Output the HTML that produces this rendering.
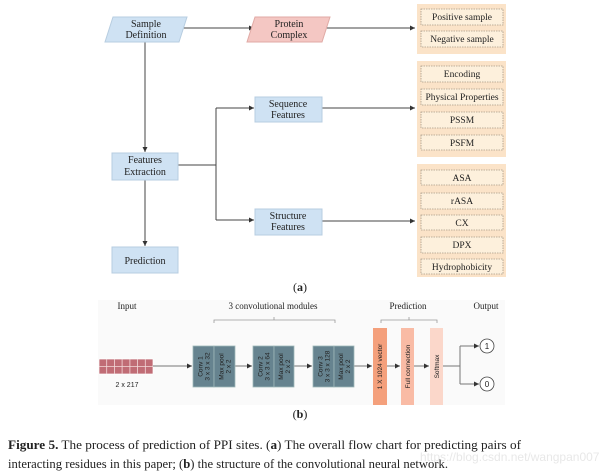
<!DOCTYPE html>
<html><head><meta charset="utf-8"><style>
html,body{margin:0;padding:0;background:#fff;}
svg{display:block;}
text{font-family:"Liberation Serif",serif;fill:#222;}
.s,.s text{font-family:"Liberation Sans",sans-serif;}
</style></head><body>
<svg width="602" height="472" viewBox="0 0 602 472" xmlns="http://www.w3.org/2000/svg">
<defs>
<marker id="a" markerWidth="6" markerHeight="6" refX="5" refY="3" orient="auto" markerUnits="userSpaceOnUse"><path d="M0,0.5 L5,3 L0,5.5z" fill="#333"/></marker>
</defs>
<g stroke="#444" stroke-width="1" fill="none">
<line x1="183" y1="28" x2="254" y2="28" marker-end="url(#a)"/>
<line x1="326" y1="28" x2="415" y2="28" marker-end="url(#a)"/>
<line x1="145" y1="42" x2="145" y2="152" marker-end="url(#a)"/>
<line x1="145" y1="180" x2="145" y2="246" marker-end="url(#a)"/>
<polyline points="178,165 216,165"/>
<polyline points="216,108 216,220"/>
<line x1="216" y1="108" x2="254" y2="108" marker-end="url(#a)"/>
<line x1="216" y1="220" x2="254" y2="220" marker-end="url(#a)"/>
<line x1="322" y1="108" x2="415" y2="108" marker-end="url(#a)"/>
<line x1="322" y1="221" x2="415" y2="221" marker-end="url(#a)"/>
</g>
<polygon points="113,17 187,17 179,42 105,42" fill="#cfe2f3" stroke="#b7cde0"/>
<text x="146" y="27" font-size="10" text-anchor="middle">Sample</text>
<text x="146" y="38" font-size="10" text-anchor="middle">Definition</text>
<polygon points="255,17 330,17 322,42 247,42" fill="#f4c7c3" stroke="#e0aaa5"/>
<text x="289" y="27" font-size="10" text-anchor="middle">Protein</text>
<text x="289" y="38" font-size="10" text-anchor="middle">Complex</text>
<rect x="112" y="153" width="66" height="27" fill="#cfe2f3" stroke="#b7cde0"/>
<text x="145" y="163" font-size="10" text-anchor="middle">Features</text>
<text x="145" y="175" font-size="10" text-anchor="middle">Extraction</text>
<rect x="112" y="247" width="66" height="26" fill="#cfe2f3" stroke="#b7cde0"/>
<text x="145" y="264" font-size="10" text-anchor="middle">Prediction</text>
<rect x="255" y="97" width="67" height="25" fill="#cfe2f3" stroke="#b7cde0"/>
<text x="288" y="107" font-size="10" text-anchor="middle">Sequence</text>
<text x="288" y="118" font-size="10" text-anchor="middle">Features</text>
<rect x="255" y="209" width="67" height="26" fill="#cfe2f3" stroke="#b7cde0"/>
<text x="288" y="219" font-size="10" text-anchor="middle">Structure</text>
<text x="288" y="230" font-size="10" text-anchor="middle">Features</text>
<g fill="#fbe3c8">
<rect x="417" y="4" width="89" height="50"/>
<rect x="417" y="61" width="89" height="96"/>
<rect x="417" y="164" width="89" height="113"/>
</g>
<g fill="#fdf0dc" stroke="#a89a88" stroke-width="0.8" stroke-dasharray="1.5,1">
<rect x="421" y="9" width="82" height="16"/><rect x="421" y="31" width="82" height="16"/>
<rect x="421" y="66" width="82" height="16"/><rect x="421" y="89" width="82" height="16"/>
<rect x="421" y="112" width="82" height="16"/><rect x="421" y="135" width="82" height="15"/>
<rect x="421" y="170" width="82" height="15"/><rect x="421" y="193" width="82" height="16"/>
<rect x="421" y="215" width="82" height="15"/><rect x="421" y="237" width="82" height="16"/>
<rect x="421" y="259" width="82" height="15"/>
</g>
<g font-size="9.5" text-anchor="middle">
<text x="462" y="20">Positive sample</text><text x="462" y="42">Negative sample</text>
<text x="462" y="77">Encoding</text><text x="462" y="100">Physical Properties</text>
<text x="462" y="123">PSSM</text><text x="462" y="146">PSFM</text>
<text x="462" y="181">ASA</text><text x="462" y="204">rASA</text>
<text x="462" y="226">CX</text><text x="462" y="248">DPX</text>
<text x="462" y="270">Hydrophobicity</text>
</g>
<text x="300" y="291" font-size="12" text-anchor="middle">(<tspan font-weight="bold">a</tspan>)</text>
<rect x="98" y="300" width="407" height="105" fill="#fafafa"/>
<g font-size="9" text-anchor="middle">
<text x="127" y="309">Input</text>
<text x="273" y="309">3 convolutional modules</text>
<text x="408" y="309">Prediction</text>
<text x="486" y="309">Output</text>
</g>
<g stroke="#999" fill="none" stroke-width="0.8">
<path d="M214,323 V320 H335 V323 M274,320 V317"/>
<path d="M381,323 V320 H437 V323 M409,320 V317"/>
</g>
<g fill="#c06c75" stroke="#fff" stroke-width="0.7">
<rect x="99" y="359" width="54" height="15"/>
</g>
<g stroke="#f3dada" stroke-width="0.8">
<line x1="99" y1="366.5" x2="153" y2="366.5"/>
<line x1="106.7" y1="359" x2="106.7" y2="374"/><line x1="114.4" y1="359" x2="114.4" y2="374"/>
<line x1="122.1" y1="359" x2="122.1" y2="374"/><line x1="129.9" y1="359" x2="129.9" y2="374"/>
<line x1="137.6" y1="359" x2="137.6" y2="374"/><line x1="145.3" y1="359" x2="145.3" y2="374"/>
</g>
<text x="127" y="387" font-size="7" class="s" text-anchor="middle">2 x 217</text>
<g stroke="#777" fill="none">
<line x1="153" y1="366" x2="192" y2="366" marker-end="url(#a)"/>
<line x1="235" y1="366" x2="252" y2="366" marker-end="url(#a)"/>
<line x1="294" y1="366" x2="312" y2="366" marker-end="url(#a)"/>
<line x1="354" y1="366" x2="372" y2="366" marker-end="url(#a)"/>
<line x1="387" y1="366" x2="400" y2="366" marker-end="url(#a)"/>
<line x1="414" y1="366" x2="429" y2="366" marker-end="url(#a)"/>
<line x1="443" y1="366" x2="460" y2="366"/>
<polyline points="460,346 460,384"/>
<line x1="460" y1="346" x2="479" y2="346" marker-end="url(#a)"/>
<line x1="460" y1="384" x2="479" y2="384" marker-end="url(#a)"/>
</g>
<g fill="#66838f" stroke="#9fb8b8" stroke-width="0.8">
<rect x="193" y="346" width="21" height="41"/><rect x="214" y="346" width="21" height="41"/>
<rect x="253" y="346" width="21" height="41"/><rect x="274" y="346" width="20" height="41"/>
<rect x="313" y="346" width="21" height="41"/><rect x="334" y="346" width="20" height="41"/>
</g>
<g font-size="6.5" class="s" style="fill:#111" text-anchor="middle">
<text transform="translate(203.5,366.5) rotate(-90)"><tspan x="0" dy="-1">Conv 1</tspan><tspan x="0" dy="7">3 x 3 x 32</tspan></text>
<text transform="translate(224.5,366.5) rotate(-90)"><tspan x="0" dy="-1">Max pool</tspan><tspan x="0" dy="7">2 x 2</tspan></text>
<text transform="translate(263.5,366.5) rotate(-90)"><tspan x="0" dy="-1">Conv 2</tspan><tspan x="0" dy="7">3 x 3 x 64</tspan></text>
<text transform="translate(284,366.5) rotate(-90)"><tspan x="0" dy="-1">Max pool</tspan><tspan x="0" dy="7">2 x 2</tspan></text>
<text transform="translate(323.5,366.5) rotate(-90)"><tspan x="0" dy="-1">Conv 3</tspan><tspan x="0" dy="7">3 x 3 x 128</tspan></text>
<text transform="translate(344,366.5) rotate(-90)"><tspan x="0" dy="-1">Max pool</tspan><tspan x="0" dy="7">2 x 2</tspan></text>
</g>
<rect x="373" y="328" width="14" height="77" fill="#f4a07c"/>
<rect x="401" y="328" width="13" height="77" fill="#f9bba5"/>
<rect x="430" y="328" width="13" height="77" fill="#fbd7ca"/>
<g font-size="6.5" class="s" style="fill:#222" text-anchor="middle">
<text transform="translate(382,366.5) rotate(-90)">1 X 1024 vector</text>
<text transform="translate(410,366.5) rotate(-90)">Full connection</text>
<text transform="translate(439,366.5) rotate(-90)">Softmax</text>
</g>
<g fill="#fff" stroke="#444" stroke-width="0.8">
<circle cx="487" cy="346" r="7"/><circle cx="487" cy="384" r="7"/>
</g>
<text x="487" y="349" font-size="8" class="s" text-anchor="middle">1</text>
<text x="487" y="387" font-size="8" class="s" text-anchor="middle">0</text>
<text x="300" y="418" font-size="12" text-anchor="middle">(<tspan font-weight="bold">b</tspan>)</text>
<text x="8" y="449" font-size="12.5" textLength="513" lengthAdjust="spacingAndGlyphs"><tspan font-weight="bold">Figure 5.</tspan> The process of prediction of PPI sites. (<tspan font-weight="bold">a</tspan>) The overall flow chart for predicting pairs of</text>
<text x="8" y="468" font-size="12.5" textLength="440" lengthAdjust="spacingAndGlyphs">interacting residues in this paper; (<tspan font-weight="bold">b</tspan>) the structure of the convolutional neural network.</text>
<text x="420" y="461" font-size="12" class="s" style="fill:#e8e8e8">https://blog.csdn.net/wangpan007</text>
</svg>
</body></html>
